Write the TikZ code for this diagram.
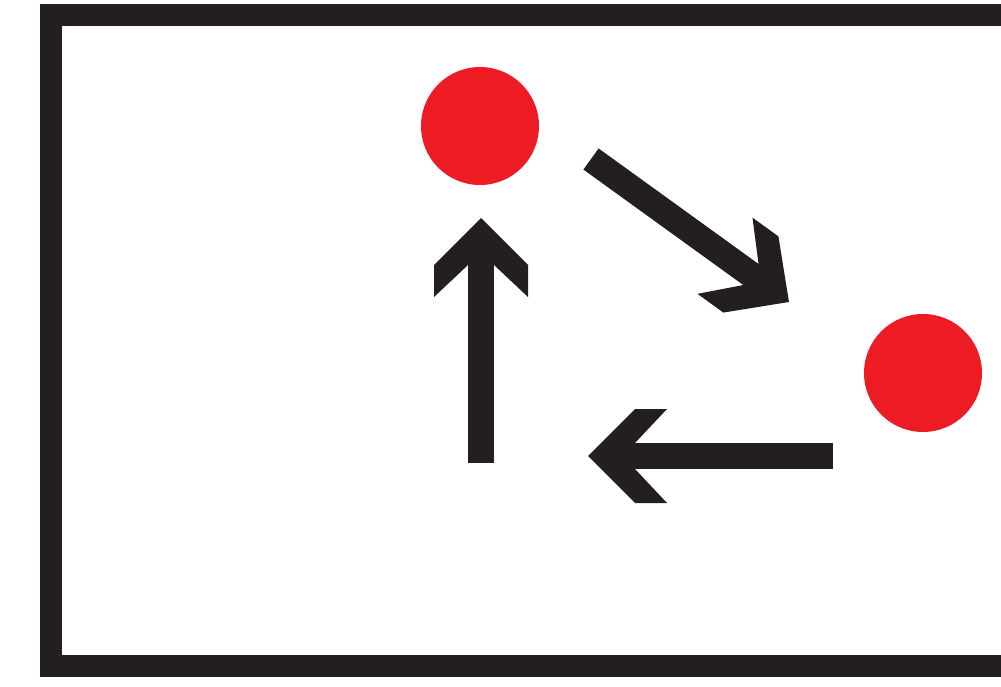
\documentclass[tikz,border=0pt]{standalone}
\usetikzlibrary{arrows.meta, positioning, decorations.markings}
\definecolor{dotred}{RGB}{237,28,36}
\definecolor{inkblack}{RGB}{35,31,32}
\tikzset{
    % Frame
    framebox/.style={draw=inkblack, line width=22pt},
    % Red dots
    reddot/.style={circle, fill=dotred, minimum size=118pt, inner sep=0pt},
    % Thick arrows with chevron heads
    fatarrow/.style={draw=inkblack, line width=26pt, shorten >=44pt,
        postaction={decorate, decoration={markings, mark=at position 1 with {
            \fill[inkblack, shorten >=0pt] (0,0) -- (-47,47) -- (-79,47) -- (-47,13)
                -- (-47,-13) -- (-79,-47) -- (-47,-47) -- cycle;}}}},
}
\begin{document}
\begin{tikzpicture}[x=1pt, y=-1pt]
\useasboundingbox (0,0) rectangle (1001,687);
\clip (0,0) rectangle (1001,687);

\draw[framebox] (51,15) rectangle (1045,666);

\node[reddot] (dotA) at (480,126) {};
\node[reddot] (dotB) at (923,373) {};

\coordinate (diagS) at (591,159);
\coordinate (diagT) at (789,302);
\coordinate (leftS) at (833,456);
\coordinate (leftT) at (588,456);
\coordinate (upS)   at (481,463);
\coordinate (upT)   at (481,218);

\draw[fatarrow] (diagS) -- (diagT);
\draw[fatarrow] (leftS) -- (leftT);
\draw[fatarrow] (upS) -- (upT);
\end{tikzpicture}
\end{document}
